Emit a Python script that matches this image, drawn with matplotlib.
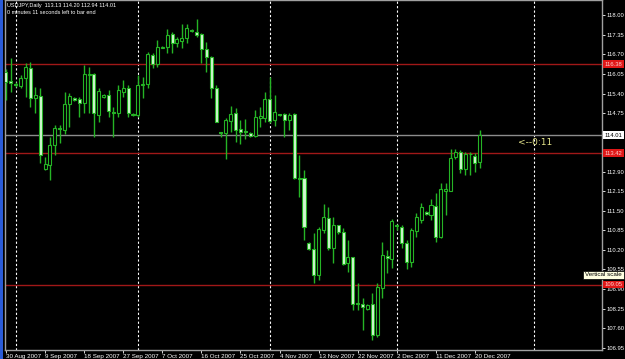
import matplotlib
matplotlib.use("Agg")
import matplotlib.pyplot as plt
from matplotlib.patches import Rectangle
import matplotlib.transforms as mtransforms

# USDJPY daily bars, 30 Aug 2007 .. 21 Dec 2007
opens = [116.12, 115.82, 115.71, 115.66, 115.91, 116.26, 115.24, 115.32, 112.88, 113.02,
         113.69, 114.23, 114.19, 115.04, 115.26, 115.21, 115.09, 116.01, 116.05, 114.69,
         115.28, 115.35, 114.79, 114.76, 115.46, 115.57, 114.67, 114.69, 115.70, 115.72,
         116.68, 116.38, 116.93, 116.94, 117.37, 117.09, 117.16, 117.24, 117.50, 117.45,
         117.38, 116.87, 116.62, 115.57, 114.09, 114.08, 114.50, 114.74, 114.21, 114.14,
         114.08, 113.99, 114.60, 114.58, 115.21, 114.52, 114.70, 114.72, 114.52, 114.72,
         112.58, 112.58, 110.42, 110.22, 109.37, 110.86, 111.25, 110.25, 111.03, 110.81,
         109.76, 109.95, 108.42, 108.40, 108.23, 108.40, 107.37, 108.92, 110.00, 109.89,
         111.00, 110.95, 110.42, 109.81, 110.84, 111.20, 111.47, 111.36, 111.66, 110.62,
         112.15, 112.17, 113.30, 113.47, 112.88, 113.38, 113.32, 113.13]
highs = [116.20, 116.57, 115.79, 116.02, 116.40, 116.44, 115.63, 115.57, 113.30, 113.96,
         114.35, 114.35, 115.46, 115.41, 115.30, 115.29, 116.35, 116.29, 116.07, 115.57,
         115.38, 115.52, 114.94, 115.68, 115.85, 115.68, 114.75, 116.02, 115.96, 116.79,
         116.74, 117.18, 116.97, 117.53, 117.45, 117.29, 117.71, 117.71, 117.53, 117.87,
         117.42, 117.12, 116.65, 115.68, 114.13, 114.58, 114.98, 114.91, 114.52, 114.54,
         114.13, 114.85, 114.96, 115.46, 115.94, 115.35, 114.73, 114.74, 114.74, 114.74,
         113.36, 112.86, 110.45, 110.75, 110.97, 111.73, 111.64, 111.30, 111.04, 110.92,
         110.53, 109.98, 109.11, 108.59, 108.40, 108.78, 109.11, 110.47, 110.20, 111.22,
         111.07, 111.03, 110.53, 110.92, 111.42, 111.77, 111.50, 111.88, 112.08, 112.41,
         112.44, 113.55, 113.55, 113.52, 113.47, 113.47, 113.41, 114.20]
lows = [115.18, 115.46, 115.61, 115.57, 115.29, 114.96, 114.76, 113.08, 112.85, 112.52,
        113.37, 113.74, 114.05, 114.30, 115.15, 114.61, 114.74, 114.74, 113.94, 114.46,
        115.25, 114.63, 113.96, 114.63, 115.29, 114.63, 114.64, 114.63, 115.24, 115.57,
        116.24, 116.29, 116.90, 116.76, 116.76, 116.96, 116.90, 117.09, 117.45, 117.29,
        116.40, 116.12, 115.24, 114.44, 113.96, 113.21, 114.13, 113.80, 113.72, 113.88,
        113.96, 113.96, 114.30, 114.46, 114.43, 114.32, 114.66, 113.96, 114.19, 112.55,
        111.97, 110.53, 110.19, 109.09, 109.20, 110.75, 110.20, 109.76, 110.72, 109.70,
        109.48, 108.20, 108.20, 107.54, 108.20, 107.21, 107.30, 108.59, 109.42, 109.59,
        110.85, 110.25, 109.56, 109.64, 110.62, 111.09, 111.36, 111.20, 110.47, 110.59,
        111.36, 112.15, 113.22, 112.75, 112.69, 112.69, 112.80, 112.94]
closes = [115.79, 115.74, 115.70, 115.91, 116.29, 115.24, 115.35, 113.36, 113.05, 113.69,
          114.24, 114.22, 115.05, 115.32, 115.20, 115.07, 116.05, 116.05, 114.74, 115.48,
          115.35, 114.82, 114.74, 115.52, 115.57, 114.76, 114.72, 115.68, 115.72, 116.71,
          116.38, 116.94, 116.94, 117.35, 117.09, 117.20, 117.24, 117.57, 117.48, 117.34,
          116.87, 116.62, 115.57, 114.46, 114.08, 114.52, 114.72, 114.19, 114.13, 114.13,
          113.99, 114.61, 114.64, 115.21, 114.50, 114.80, 114.69, 114.52, 114.69, 112.58,
          112.56, 110.97, 110.22, 109.37, 110.89, 111.28, 110.25, 111.03, 110.81, 109.73,
          109.95, 108.40, 108.41, 108.29, 108.37, 107.37, 108.96, 110.03, 109.92, 111.17,
          110.99, 110.42, 109.81, 110.86, 111.28, 111.64, 111.39, 111.69, 110.62, 112.22,
          112.22, 113.25, 113.47, 112.88, 113.39, 113.40, 113.08, 114.01]

date_labels = ["30 Aug 2007", "9 Sep 2007", "18 Sep 2007", "27 Sep 2007", "7 Oct 2007",
               "16 Oct 2007", "25 Oct 2007", "4 Nov 2007", "13 Nov 2007", "22 Nov 2007",
               "2 Dec 2007", "11 Dec 2007", "20 Dec 2007"]
price_ticks = [118.00, 117.35, 116.70, 116.05, 115.40, 114.75, 114.10, 113.45, 112.80,
               112.15, 111.50, 110.85, 110.20, 109.55, 108.90, 108.25, 107.60, 106.95]
tick_labels = ["118.00", "117.35", "116.70", "116.05", "115.40", "114.75", "", "", "112.90",
               "112.15", "111.50", "110.85", "110.20", "109.55", "108.90", "108.25", "107.60", "106.95"]
red_levels = [116.38, 113.42, 109.05]
month_breaks = [2, 27, 54, 80, 108]
bid = 114.01

green = '#25b425'
bear_fill = '#d2f7d2'
font = ['Liberation Sans', 'DejaVu Sans']

fig = plt.figure(figsize=(6.25, 3.59), dpi=100, facecolor='black')
ax = fig.add_axes([5 / 625, 9.5 / 359, 597 / 625, 349.5 / 359])
ax.set_facecolor('black')

n = len(closes)
xs = list(range(n))

# wicks
ax.vlines(xs, lows, highs, color=green, lw=1, zorder=3)
# bodies
for i in xs:
    o, c = opens[i], closes[i]
    bottom = min(o, c)
    h = max(abs(c - o), 0.025)
    fc = 'black' if c > o else bear_fill
    ax.bar(i, h, bottom=bottom, width=0.62, facecolor=fc, edgecolor=green,
           linewidth=0.8, zorder=4)

# horizontal levels
for lvl in red_levels:
    ax.axhline(lvl, color='#a01818', lw=1, zorder=2)
ax.axhline(bid, color='#8c8c8c', lw=1, zorder=2)

# period separators
for b in month_breaks:
    ax.axvline(b, color='white', lw=0.8, linestyle=(0, (2, 2)), zorder=1)

ax.set_xlim(-0.2, 122.0)
ax.set_ylim(106.89, 118.51)

for s in ax.spines.values():
    s.set_color('#a0a0a0')
    s.set_linewidth(1)

ax.yaxis.tick_right()
ax.set_yticks(price_ticks)
ax.set_yticklabels(tick_labels)
ax.tick_params(axis='y', colors='white', length=2, width=0.6, pad=1.5, labelsize=4.2)
ax.set_xticks(xs[::8])
ax.set_xticklabels(date_labels)
ax.tick_params(axis='x', colors='white', length=2, width=0.6, pad=1, labelsize=4.5)
for lbl in ax.get_xticklabels():
    lbl.set_ha('left')
    lbl.set_family(font)
for lbl in ax.get_yticklabels():
    lbl.set_family(font)

# price labels on the right scale
trans = mtransforms.blended_transform_factory(ax.transAxes, ax.transData)
for lvl in red_levels:
    ax.text(1.004, lvl, f"{lvl:.2f}", transform=trans, fontsize=4.2, color='#ffd0d0',
            va='center', ha='left', family=font,
            bbox=dict(boxstyle='square,pad=0.25', facecolor='#e01818', edgecolor='none'),
            clip_on=False, zorder=6)
ax.text(1.004, bid, f"{bid:.2f}", transform=trans, fontsize=4.2, color='black',
        va='center', ha='left', family=font,
        bbox=dict(boxstyle='square,pad=0.25', facecolor='white', edgecolor='none'),
        clip_on=False, zorder=6)

# countdown marker
ax.text(104.8, 113.78, "<--0:11", fontsize=6.5, color='#e6e68c', va='center', ha='left')

# header
fig.text(7 / 625, 1 - 5 / 359, "USDJPY,Daily  113.13 114.20 112.94 114.01", fontsize=4,
         color='white', va='center', ha='left', family=font)
fig.text(7 / 625, 1 - 12 / 359, "0 minutes 11 seconds left to bar end", fontsize=4,
         color='white', va='center', ha='left', family=font)

# tooltip
fig.text(585 / 625, 1 - 275 / 359, "Vertical scale", fontsize=4.5, color='black',
         va='center', ha='left', family=font,
         bbox=dict(boxstyle='square,pad=0.3', facecolor='#ffffe1', edgecolor='black', lw=0.5))

# window border strip
fig.patches.append(Rectangle((0, 0), 3 / 625, 1, transform=fig.transFigure,
                             facecolor='#2a5bd7', edgecolor='none'))

fig.savefig('out.png', dpi=100, facecolor='black')
